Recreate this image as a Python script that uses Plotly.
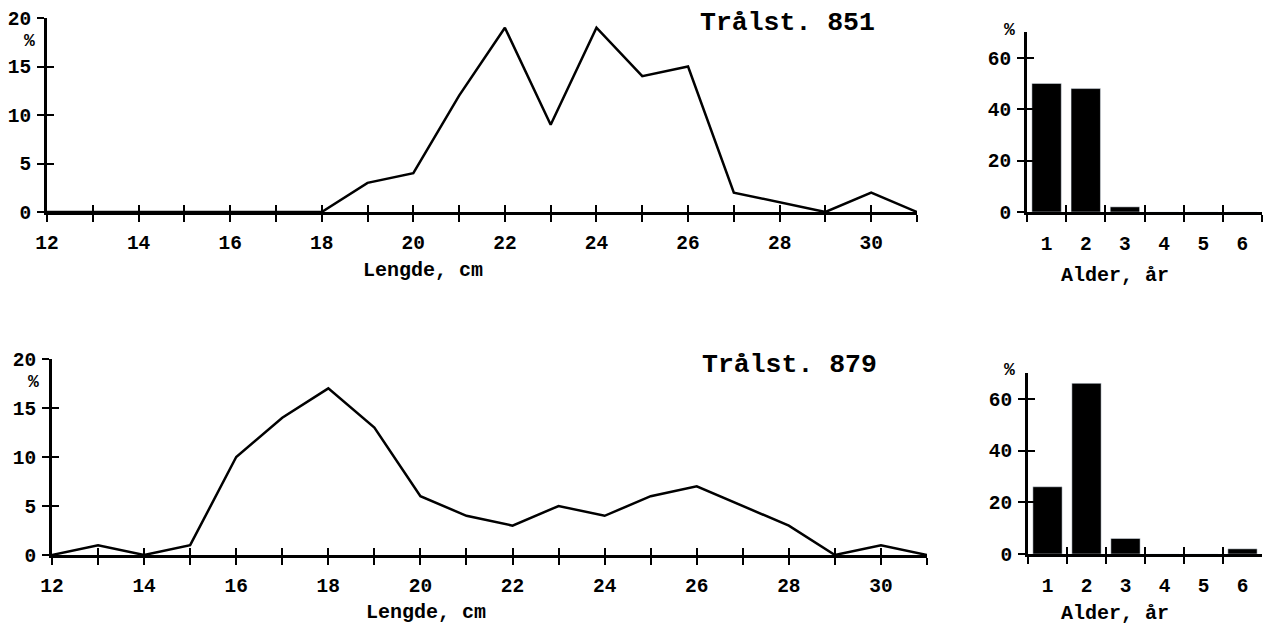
import plotly.graph_objects as go

# ---- data ----
lengths = list(range(12, 32))
pct_851 = [0, 0, 0, 0, 0, 0, 0, 3, 4, 12, 19, 9, 19, 14, 15, 2, 1, 0, 2, 0]
pct_879 = [0, 1, 0, 1, 10, 14, 17, 13, 6, 4, 3, 5, 4, 6, 7, 5, 3, 0, 1, 0]
ages = ["1", "2", "3", "4", "5", "6"]
age_851 = [50, 48, 2, 0, 0, 0]
age_879 = [26, 66, 6, 0, 0, 2]
len_ticktext = [str(v) if v % 2 == 0 else "" for v in lengths]
pct_ticks = [0, 5, 10, 15, 20]
age_pct_ticks = [0, 20, 40, 60]
station_labels = ["Trålst. 851", "Trålst. 879"]
len_title = "Lengde, cm"
age_title = "Alder, år"

W, H = 1264, 627
FONT = "Liberation Mono"
tickfont = dict(family=FONT, size=19.5, color="black", weight=700)


def px(x):
    return x / W


def py(y):
    return 1 - y / H


fig = go.Figure()
fig.add_trace(go.Scatter(x=lengths, y=pct_851, mode="lines", line=dict(color="black", width=2.5),
                         xaxis="x", yaxis="y"))
fig.add_trace(go.Bar(x=ages, y=age_851, marker=dict(color="black"), width=0.75,
                     xaxis="x2", yaxis="y2"))
fig.add_trace(go.Scatter(x=lengths, y=pct_879, mode="lines", line=dict(color="black", width=2.5),
                         xaxis="x3", yaxis="y3"))
fig.add_trace(go.Bar(x=ages, y=age_879, marker=dict(color="black"), width=0.75,
                     xaxis="x4", yaxis="y4"))
# empty traces so the overlay (inner-tick) axes get drawn
for k in range(5, 9):
    fig.add_trace(go.Scatter(x=[], y=[], mode="lines", xaxis=f"x{k}", yaxis=f"y{k}",
                             hoverinfo="skip"))

common = dict(ticklen=7, tickwidth=2, tickcolor="black", showgrid=False, zeroline=False,
              tickfont=tickfont, fixedrange=True, automargin=False)
line_x = dict(common, range=[12, 31], tickvals=lengths, ticktext=len_ticktext, ticks="outside",
              showline=True, linewidth=3, linecolor="black", ticklabelstandoff=4)
line_y = dict(common, range=[0, 20], tickvals=pct_ticks, ticks="outside", showline=True,
              linewidth=3, linecolor="black", ticklabelstandoff=2)
bar_x = dict(common, type="category", range=[-0.5, 5.5], tickson="boundaries", ticks="outside",
             showline=True, linewidth=3, linecolor="black", ticklabelstandoff=12)
bar_y = dict(common, range=[0, 70], tickvals=age_pct_ticks, ticks="outside", showline=True,
             linewidth=3, linecolor="black", ticklabelstandoff=2)

# inner halves of crossing ticks (overlay axes, no labels, no lines)
inner = dict(ticks="inside", ticklen=7, tickwidth=2, tickcolor="black", showgrid=False,
             zeroline=False, showline=False, showticklabels=False, fixedrange=True, automargin=False)
bar_bounds = [i - 0.5 for i in range(len(ages) + 1)]

fig.update_layout(
    width=W, height=H, margin=dict(l=0, r=0, t=0, b=0),
    paper_bgcolor="white", plot_bgcolor="white", showlegend=False,
    xaxis=dict(line_x, domain=[px(47), px(917)], anchor="y"),
    yaxis=dict(line_y, domain=[py(212), py(18)], anchor="x"),
    xaxis2=dict(bar_x, domain=[px(1027), px(1262)], anchor="y2"),
    yaxis2=dict(bar_y, domain=[py(212), py(32)], anchor="x2"),
    xaxis3=dict(line_x, domain=[px(52), px(927)], anchor="y3"),
    yaxis3=dict(line_y, domain=[py(555), py(359)], anchor="x3"),
    xaxis4=dict(bar_x, domain=[px(1028), px(1262)], anchor="y4"),
    yaxis4=dict(bar_y, domain=[py(554), py(373)], anchor="x4"),
    xaxis5=dict(inner, overlaying="x", anchor="y5", range=[12, 31], tickvals=lengths),
    yaxis5=dict(inner, overlaying="y", anchor="x5", range=[0, 20], tickvals=pct_ticks),
    xaxis6=dict(inner, overlaying="x2", anchor="y6", range=[-0.5, 5.5], tickvals=bar_bounds),
    yaxis6=dict(inner, overlaying="y2", anchor="x6", range=[0, 70], tickvals=age_pct_ticks),
    xaxis7=dict(inner, overlaying="x3", anchor="y7", range=[12, 31], tickvals=lengths),
    yaxis7=dict(inner, overlaying="y3", anchor="x7", range=[0, 20], tickvals=pct_ticks),
    xaxis8=dict(inner, overlaying="x4", anchor="y8", range=[-0.5, 5.5], tickvals=bar_bounds),
    yaxis8=dict(inner, overlaying="y4", anchor="x8", range=[0, 70], tickvals=age_pct_ticks),
)

annfont = dict(family=FONT, size=20, color="black", weight=700)
pctfont = dict(family=FONT, size=18, color="black", weight=700)
bigfont = dict(family=FONT, size=26.5, color="black", weight=700)
anns = [
    (787, 23, station_labels[0], bigfont),
    (789, 365, station_labels[1], bigfont),
    (423, 270, len_title, annfont),
    (426, 612, len_title, annfont),
    (1115, 275, age_title, annfont),
    (1115, 613, age_title, annfont),
    (29, 41, "%", pctfont),
    (33, 382, "%", pctfont),
    (1009, 30, "%", pctfont),
    (1009, 370, "%", pctfont),
]
for x, y, t, f in anns:
    fig.add_annotation(x=px(x), y=py(y), xref="paper", yref="paper", text=t, showarrow=False,
                       font=f, xanchor="center", yanchor="middle")

fig.write_html("out.html", config={"displayModeBar": False},
               post_script="document.body.style.margin='0';document.body.style.overflow='hidden';")
